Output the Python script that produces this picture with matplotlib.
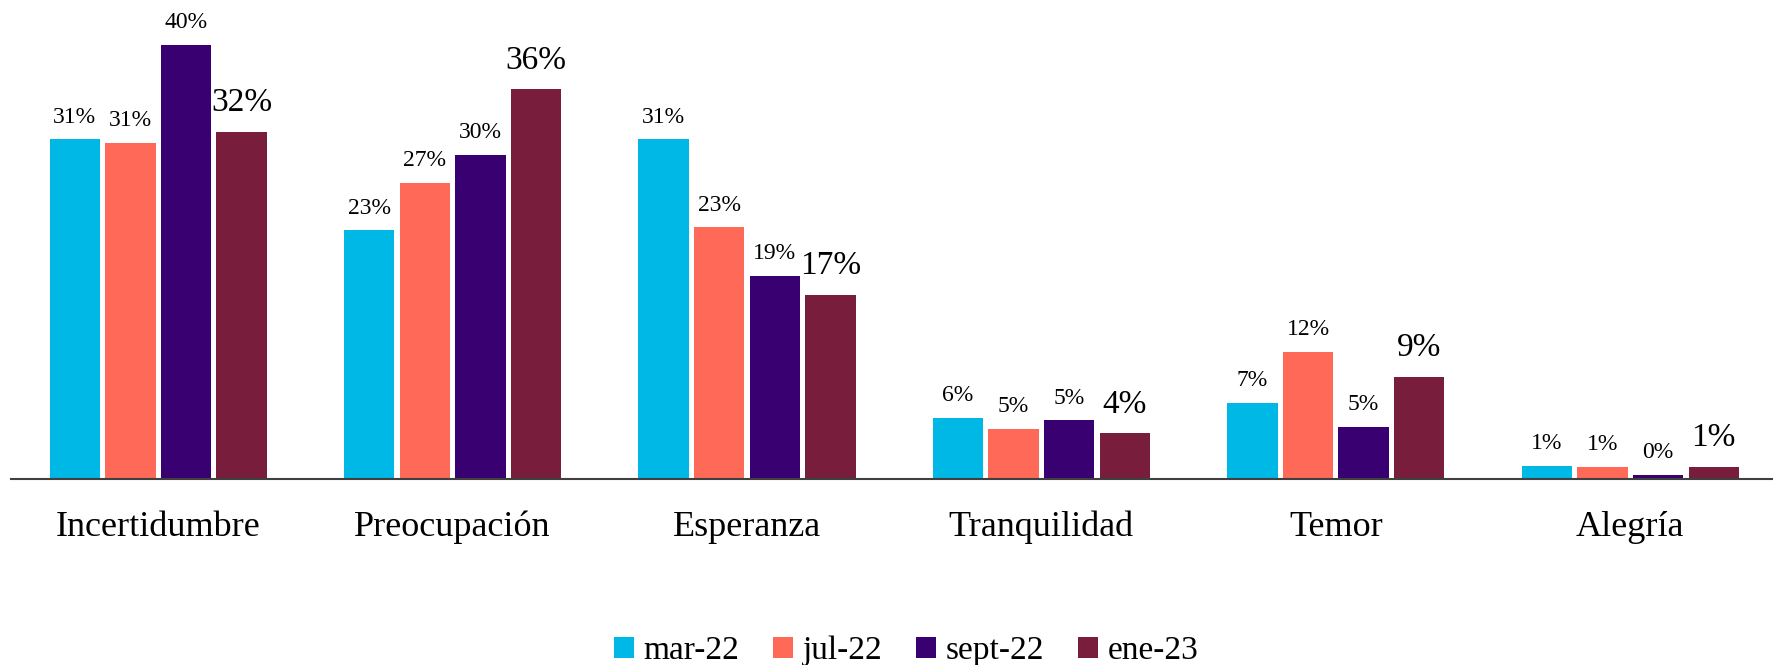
import matplotlib
matplotlib.use("Agg")
import matplotlib.pyplot as plt
import numpy as np

plt.rcParams['font.family'] = ['Liberation Serif', 'DejaVu Serif']

categories = ['Incertidumbre', 'Preocupación', 'Esperanza', 'Tranquilidad', 'Temor', 'Alegría']
periods = ['mar-22', 'jul-22', 'sept-22', 'ene-23']

mar_22 = [31.3, 22.9, 31.3, 5.65, 7.0, 1.2]
jul_22 = [31.0, 27.3, 23.2, 4.6, 11.7, 1.1]
sept_22 = [40.0, 29.9, 18.7, 5.4, 4.8, 0.4]
ene_23 = [32.0, 35.9, 17.0, 4.2, 9.4, 1.1]

colors = ['#00B8E6', '#FF6957', '#390071', '#781E3C']
series = [mar_22, jul_22, sept_22, ene_23]

fig = plt.figure(figsize=(17.73, 6.65), dpi=100)
ax = fig.add_axes([0.0062, 0.2797, 0.9963, 0.718])

x = np.arange(len(categories))
width = 0.171
step = 0.189

for i, (vals, col, name) in enumerate(zip(series, colors, periods)):
    pos = x + (i - 1.5) * step
    bars = ax.bar(pos, vals, width, color=col, label=name)
    # last period gets the bigger labels
    big = i == len(series) - 1
    for b, v in zip(bars, vals):
        ax.annotate('{}%'.format(int(round(v))),
                    (b.get_x() + b.get_width() / 2, b.get_height()),
                    xytext=(0, 15 if big else 12), textcoords='offset points',
                    ha='center', va='baseline',
                    fontsize=24 if big else 17, color='black')

ax.set_xlim(-0.5, 5.5)
ax.set_ylim(0, 44)
ax.set_xticks(x)
ax.set_xticklabels(categories, fontsize=26)
ax.tick_params(axis='x', length=0, pad=23)
ax.set_yticks([])

for s in ['top', 'right', 'left']:
    ax.spines[s].set_visible(False)
ax.spines['bottom'].set_color('#404040')
ax.spines['bottom'].set_linewidth(1.5)

fig.legend(loc='center', bbox_to_anchor=(0.511, 0.021), ncol=4, frameon=False,
           fontsize=24, handlelength=0.6, handleheight=0.6,
           handletextpad=0.3, columnspacing=1.0)

fig.savefig('out.png', dpi=100)
